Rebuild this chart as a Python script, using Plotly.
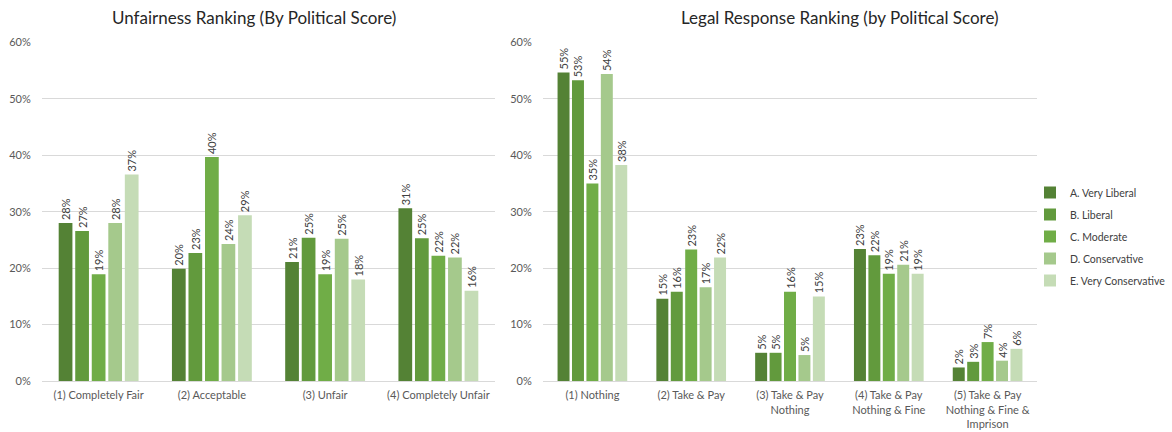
import plotly.graph_objects as go

# Political-score groups (series)
groups = ["A. Very Liberal", "B. Liberal", "C. Moderate", "D. Conservative", "E. Very Conservative"]
colors = ["#548235", "#629a3d", "#70ad47", "#a5c98c", "#c5dcb6"]

# Unfairness ranking categories and shares per group
fair_cats = ["(1) Completely Fair", "(2) Acceptable", "(3) Unfair", "(4) Completely Unfair"]
fair_a = [0.280, 0.199, 0.211, 0.306]
fair_b = [0.266, 0.227, 0.254, 0.253]
fair_c = [0.189, 0.397, 0.189, 0.222]
fair_d = [0.280, 0.243, 0.252, 0.219]
fair_e = [0.366, 0.294, 0.180, 0.160]

# Legal response ranking categories and shares per group
legal_cats = ["(1) Nothing", "(2) Take & Pay", "(3) Take & Pay<br>Nothing",
              "(4) Take & Pay<br>Nothing & Fine", "(5) Take & Pay<br>Nothing & Fine &<br>Imprison"]
legal_a = [0.547, 0.146, 0.050, 0.234, 0.024]
legal_b = [0.533, 0.158, 0.050, 0.223, 0.034]
legal_c = [0.350, 0.233, 0.158, 0.190, 0.069]
legal_d = [0.544, 0.166, 0.046, 0.206, 0.036]
legal_e = [0.383, 0.219, 0.150, 0.190, 0.057]

y_ticks = [0, 0.1, 0.2, 0.3, 0.4, 0.5, 0.6]

FONT = "Lato, Open Sans, sans-serif"
W, H = 1172, 432

fig = go.Figure()

fair_series = [fair_a, fair_b, fair_c, fair_d, fair_e]
legal_series = [legal_a, legal_b, legal_c, legal_d, legal_e]

label_font = dict(family=FONT, size=11, color="#404040")

for name, col, vals in zip(groups, colors, fair_series):
    fig.add_trace(go.Bar(
        x=fair_cats, y=vals, name=name, marker_color=col, marker_line_width=0,
        text=vals, texttemplate="%{y:.0%}", textposition="outside", textangle=-90,
        textfont=label_font, constraintext="none", cliponaxis=False,
        legendgroup=name, showlegend=False, xaxis="x", yaxis="y",
    ))

for name, col, vals in zip(groups, colors, legal_series):
    fig.add_trace(go.Bar(
        x=legal_cats, y=vals, name=name, marker_color=col, marker_line_width=0,
        text=vals, texttemplate="%{y:.0%}", textposition="outside", textangle=-90,
        textfont=label_font, constraintext="none", cliponaxis=False,
        legendgroup=name, showlegend=True, xaxis="x2", yaxis="y2",
    ))

y_dom = [(H - 381) / H, (H - 42.5) / H]
tick_font = dict(family=FONT, size=11, color="#595959")

yaxis_common = dict(
    range=[0, 0.6], tickvals=y_ticks, tickformat=".0%", showgrid=True,
    gridcolor="#d9d9d9", gridwidth=1, zeroline=True, zerolinecolor="#d9d9d9",
    zerolinewidth=1, showline=False, ticks="outside", ticklen=8,
    tickcolor="rgba(0,0,0,0)", tickfont=tick_font, domain=y_dom, fixedrange=True,
    automargin=False,
)
xaxis_common = dict(
    type="category", showgrid=False, showline=False, ticks="outside", ticklen=4,
    tickcolor="rgba(0,0,0,0)", tickfont=tick_font, tickangle=0, automargin=False,
)

fig.update_layout(
    width=W, height=H,
    margin=dict(l=0, r=0, t=0, b=0, autoexpand=False),
    paper_bgcolor="white", plot_bgcolor="white",
    barmode="group", bargap=0.27, bargroupgap=0.17,
    font=dict(family=FONT, color="#404040"),
    xaxis=dict(domain=[42 / W, 495 / W], anchor="y", **xaxis_common),
    yaxis=dict(anchor="x", **yaxis_common),
    xaxis2=dict(domain=[543 / W, 1037 / W], anchor="y2", **xaxis_common),
    yaxis2=dict(anchor="x2", **yaxis_common),
    legend=dict(
        x=1030 / W, y=(H - 178) / H, xanchor="left", yanchor="top",
        font=dict(family=FONT, size=10.5, color="#404040"),
        itemwidth=30, tracegroupgap=3, bgcolor="rgba(0,0,0,0)",
    ),
    annotations=[
        dict(text="Unfairness Ranking (By Political Score)", x=254 / W, y=(H - 17) / H,
             xref="paper", yref="paper", showarrow=False, xanchor="center", yanchor="middle",
             font=dict(family=FONT, size=17, color="#262626")),
        dict(text="Legal Response Ranking (by Political Score)", x=840 / W, y=(H - 17) / H,
             xref="paper", yref="paper", showarrow=False, xanchor="center", yanchor="middle",
             font=dict(family=FONT, size=17, color="#262626")),
    ],
)

fig.write_html("out.html")
